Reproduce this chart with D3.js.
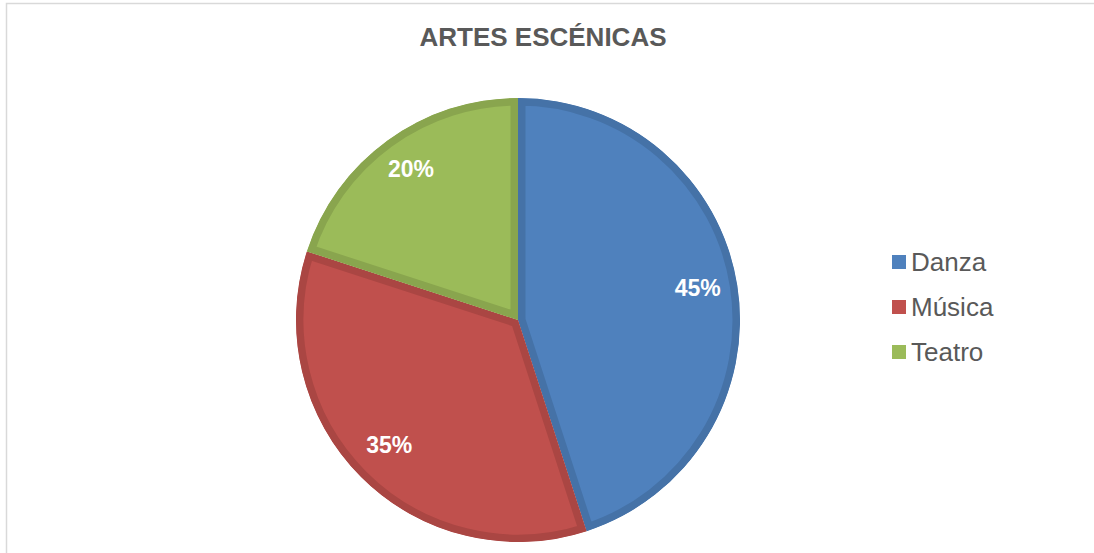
<!DOCTYPE html>
<html>
<head>
<meta charset="utf-8">
<script src="https://cdn.jsdelivr.net/npm/d3@7"></script>
<style>
  html, body { margin: 0; padding: 0; background: #fff; }
  svg { display: block; }
</style>
</head>
<body>
<div id="chart"></div>
<script>
// pie of performing arts shares

const CATEGORIES = ["Danza", "Música", "Teatro"];
const VALUES     = [45, 35, 20];
const FILLS      = ["#4f81bd", "#c0504d", "#9bbb59"];
const EDGES      = ["#4572a7", "#aa4643", "#89a54e"];

const W = 1094, H = 553;
const cx = 518, cy = 320, R = 222;
const FONT = "'Liberation Sans', Arial, sans-serif";

const svg = d3.select("#chart").append("svg")
  .attr("width", W).attr("height", H);

// chart area frame
svg.append("rect").attr("x", 6.5).attr("y", 3.5).attr("width", W).attr("height", H)
  .attr("fill", "none").attr("stroke", "#d9d9d9").attr("stroke-width", 1.5);

svg.append("text").attr("x", 543).attr("y", 46)
  .attr("text-anchor", "middle").attr("fill", "#595959")
  .style("font-family", FONT).style("font-size", "26px").style("font-weight", "bold")
  .text("ARTES ESCÉNICAS");

const data = CATEGORIES.map((c, i) => ({ name: c, value: VALUES[i], fill: FILLS[i], edge: EDGES[i] }));

const pie = d3.pie().value(d => d.value).sort(null);
const arc = d3.arc().innerRadius(0).outerRadius(R);
const labelArc = d3.arc().innerRadius(R * 0.82).outerRadius(R * 0.82);

const g = svg.append("g").attr("transform", `translate(${cx},${cy})`);
const arcs = pie(data);

const defs = svg.append("defs");
arcs.forEach((a, i) => {
  defs.append("clipPath").attr("id", "clip" + i)
    .append("path").attr("d", arc(a));
});

g.selectAll("path.slice").data(arcs).join("path").attr("class", "slice")
  .attr("d", arc)
  .attr("fill", d => d.data.fill)
  .attr("stroke", d => d.data.edge)
  .attr("stroke-width", 15)
  .attr("stroke-linejoin", "miter")
  .attr("clip-path", (d, i) => `url(#clip${i})`);

g.selectAll("text.pct").data(arcs).join("text").attr("class", "pct")
  .attr("transform", d => `translate(${labelArc.centroid(d)})`)
  .attr("text-anchor", "middle").attr("dy", "0.2em")
  .attr("fill", "#fff")
  .style("font-family", FONT).style("font-size", "23px").style("font-weight", "bold")
  .text(d => d.data.value + "%");

// legend
const legend = svg.append("g").attr("transform", "translate(892,262)");
const rows = legend.selectAll("g").data(data).join("g")
  .attr("transform", (d, i) => `translate(0,${i * 45})`);
rows.append("rect").attr("x", 0).attr("y", -7).attr("width", 14).attr("height", 14)
  .attr("fill", d => d.fill);
rows.append("text").attr("x", 19).attr("y", 0).attr("dy", "0.35em")
  .attr("fill", "#595959")
  .style("font-family", FONT).style("font-size", "26px")
  .text(d => d.name);
</script>
</body>
</html>
